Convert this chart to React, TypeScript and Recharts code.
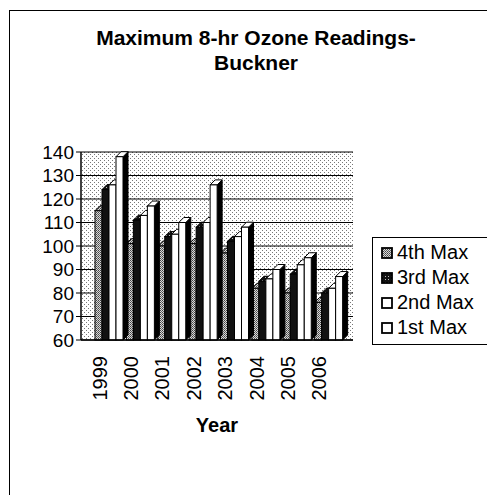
import React from "react";
import { BarChart, Bar, XAxis, YAxis, CartesianGrid } from "recharts";

// Buckner ozone readings
const years = ["1999", "2000", "2001", "2002", "2003", "2004", "2005", "2006"];
const fourthMax = [115, 101, 100, 101, 97, 82, 80, 76];
const thirdMax = [124, 111, 104, 108, 102, 85, 88, 80];
const secondMax = [126, 113, 105, 110, 104, 86, 92, 82];
const firstMax = [138, 117, 110, 126, 108, 90, 95, 87];
const yTicks = [60, 70, 80, 90, 100, 110, 120, 130, 140];

const SERIES = [
  { key: "fourth", name: "4th Max", fill: "url(#speckle)", top: "url(#speckle)" },
  { key: "third", name: "3rd Max", fill: "#111", top: "url(#darkspeckle)" },
  { key: "second", name: "2nd Max", fill: "#fff", top: "#fff" },
  { key: "first", name: "1st Max", fill: "#fff", top: "#fff" },
];

const data = years.map((year, i) => ({
  year,
  fourth: fourthMax[i],
  third: thirdMax[i],
  second: secondMax[i],
  first: firstMax[i],
}));

const FONT = "'Liberation Sans', Arial, sans-serif";
const DEPTH = 5;

// simple 3D column: front face, dark side, top face
const Column3D = (props: any) => {
  const { x, y, width, height, fill, top } = props;
  if (height == null || height <= 0) return null;
  const d = DEPTH;
  return (
    <g>
      <polygon
        points={`${x + width},${y} ${x + width + d},${y - d} ${x + width + d},${y + height - d} ${x + width},${y + height}`}
        fill="#000"
        stroke="#000"
        strokeWidth={1}
      />
      <polygon
        points={`${x},${y} ${x + d},${y - d} ${x + width + d},${y - d} ${x + width},${y}`}
        fill={top}
        stroke="#000"
        strokeWidth={1}
      />
      <rect x={x} y={y} width={width} height={height} fill={fill} stroke="#000" strokeWidth={1} />
    </g>
  );
};

// year labels sit under the front (4th Max) column of each group
const YearTick = ({ x, y, payload }: any) => {
  const cx = x - 9;
  return (
    <text
      x={cx}
      y={y}
      transform={`rotate(-90, ${cx}, ${y})`}
      dx={-8}
      dy={7}
      textAnchor="end"
      fontSize={20}
      fontFamily={FONT}
      fill="#000"
    >
      {payload.value}
    </text>
  );
};

const LegendBox = () => (
  <div
    style={{
      position: "absolute",
      left: 372,
      top: 237,
      width: 118,
      height: 108,
      border: "1px solid #000",
      borderRight: "none",
      boxSizing: "border-box",
      background: "#fff",
      paddingTop: 2,
      fontFamily: FONT,
      fontSize: 20,
    }}
  >
    {SERIES.map((s) => (
      <div key={s.key} style={{ display: "flex", alignItems: "center", height: 25 }}>
        <svg width={12} height={12} style={{ marginLeft: 8, marginRight: 4 }}>
          <rect
            x={1}
            y={1}
            width={10}
            height={10}
            fill={s.key === "third" ? "url(#darkspeckle)" : s.fill}
            stroke="#000"
            strokeWidth={1.8}
          />
        </svg>
        <span>{s.name}</span>
      </div>
    ))}
  </div>
);

export default function App() {
  return (
    <div
      style={{
        position: "fixed",
        left: 0,
        top: 0,
        width: 487,
        height: 495,
        background: "#fff",
        overflow: "hidden",
      }}
    >
      <div
        style={{
          position: "absolute",
          left: 9,
          top: 10,
          width: 490,
          height: 500,
          borderLeft: "1.5px solid #000",
          borderTop: "1.5px solid #000",
        }}
      />
      <div style={{ position: "absolute", left: 0, top: 0 }}>
        <BarChart
          width={487}
          height={495}
          data={data}
          margin={{ top: 152, right: 134, bottom: 125, left: 41 }}
          barGap={0}
          barSize={7}
        >
          <defs>
            <pattern id="wall" width={4} height={4} patternUnits="userSpaceOnUse">
              <rect width={4} height={4} fill="#fff" />
              <rect x={0} y={0} width={1} height={1} fill="#777" />
              <rect x={2} y={2} width={1} height={1} fill="#777" />
            </pattern>
            <pattern id="speckle" width={2} height={2} patternUnits="userSpaceOnUse">
              <rect width={2} height={2} fill="#d8d8d8" />
              <rect x={0} y={0} width={1} height={1} fill="#444" />
              <rect x={1} y={1} width={1} height={1} fill="#666" />
            </pattern>
            <pattern id="darkspeckle" width={3} height={3} patternUnits="userSpaceOnUse">
              <rect width={3} height={3} fill="#111" />
              <rect x={1} y={1} width={1} height={1} fill="#bbb" />
            </pattern>
          </defs>
          <text x={256} y={45} textAnchor="middle" fontSize={21} fontWeight="bold" fontFamily={FONT} fill="#000">
            Maximum 8-hr Ozone Readings-
          </text>
          <text x={256} y={70} textAnchor="middle" fontSize={21} fontWeight="bold" fontFamily={FONT} fill="#000">
            Buckner
          </text>
          <CartesianGrid vertical={false} stroke="#000" strokeWidth={1} fill="url(#wall)" fillOpacity={1} />
          <XAxis
            dataKey="year"
            padding={{ left: 12, right: 9 }}
            axisLine={{ stroke: "#000", strokeWidth: 1.5 }}
            tickLine={false}
            tick={<YearTick />}
            interval={0}
          />
          <YAxis
            domain={[60, 140]}
            ticks={yTicks}
            interval={0}
            width={40}
            axisLine={{ stroke: "#000", strokeWidth: 1.5 }}
            tickLine={{ stroke: "#000" }}
            tickSize={5}
            tickMargin={2}
            tick={{ fontSize: 19, fontFamily: FONT, fill: "#000" }}
          />
          {SERIES.map((s) => (
            <Bar
              key={s.key}
              dataKey={s.key}
              name={s.name}
              fill={s.fill}
              shape={(p: any) => <Column3D {...p} fill={s.fill} top={s.top} />}
              isAnimationActive={false}
            />
          ))}
          <text x={217} y={432} textAnchor="middle" fontSize={20} fontWeight="bold" fontFamily={FONT} fill="#000">
            Year
          </text>
        </BarChart>
      </div>
      <LegendBox />
    </div>
  );
}
